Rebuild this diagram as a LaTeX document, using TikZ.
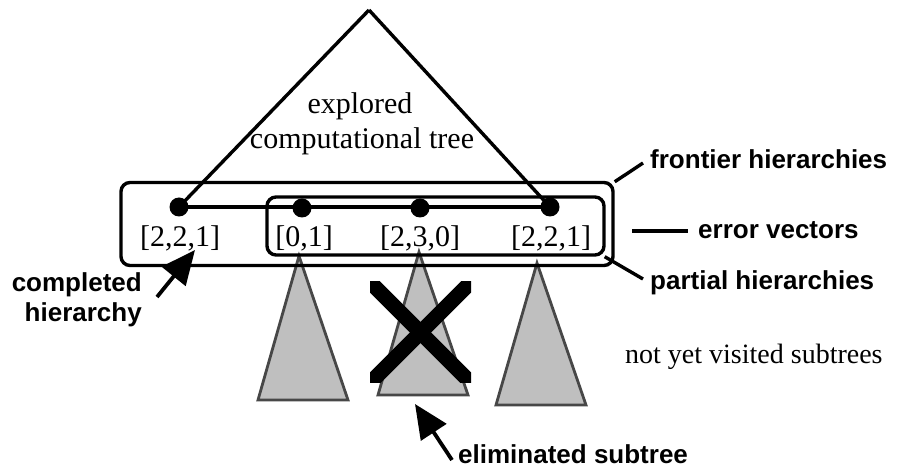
\documentclass[tikz,border=0pt]{standalone}
\usepackage{fontspec}
\setmainfont{Liberation Serif}
\newfontfamily\labelfont{Liberation Sans}
\usetikzlibrary{arrows.meta}
\tikzset{
  serif/.style={font=\fontsize{30}{34}\selectfont, inner sep=0pt},
  lbl/.style={font=\labelfont\bfseries\fontsize{26}{30}\selectfont, inner sep=0pt},
  dotnode/.style={circle, fill=black, minimum size=19pt, inner sep=0pt},
  treeline/.style={line width=3.4pt, black},
  boxframe/.style={draw, line width=3.4pt, rounded corners=9pt, inner sep=0pt},
  subtree/.style={fill=black!25, draw=black!72, line width=2.8pt, line join=miter},
  leader/.style={line width=3.4pt},
  bigarrow/.style={line width=3.8pt, -{Triangle[length=34pt,width=30pt]}},
}
\begin{document}
\begin{tikzpicture}[x=1pt,y=-1pt]
\useasboundingbox (0,0) rectangle (900,470);

% subtrees (drawn first, behind frames)
\draw[subtree] (299,256) -- (348,400) -- (258,400) -- cycle;
\draw[subtree] (419,252) -- (468,395) -- (378,395) -- cycle;
\draw[subtree] (537,263) -- (586,405) -- (496,405) -- cycle;

% frames
\node[boxframe, minimum width=492pt, minimum height=83pt] (frontier) at (367,224) {};
\node[boxframe, minimum width=337pt, minimum height=58pt] (partial) at (435.5,226) {};

% explored tree
\coordinate (apex) at (369,10);
\node[dotnode] (d1) at (179,207) {};
\node[dotnode] (d2) at (302,208) {};
\node[dotnode] (d3) at (420,208) {};
\node[dotnode] (d4) at (550,207) {};
\draw[treeline] (apex) -- (d1.center);
\draw[treeline] (apex) -- (d4.center);
\draw[treeline] (d1.center) -- (d4.center);

\node[serif] (t1) at (360,106) {explored};
\node[serif] (t2) at (362,141) {computational tree};

% error vectors
\node[serif, anchor=base] (e1) at (180,247) {[2,2,1]};
\node[serif, anchor=base] (e2) at (304,247) {[0,1]};
\node[serif, anchor=base] (e3) at (420,247) {[2,3,0]};
\node[serif, anchor=base] (e4) at (551,247) {[2,2,1]};

% cross over eliminated subtree
\begin{scope}
\clip (370,282) rectangle (471,383);
\coordinate (xa) at (360,272);
\coordinate (xb) at (481,393);
\coordinate (xc) at (481,272);
\coordinate (xd) at (360,393);
\draw[line width=15pt] (xa) -- (xb);
\draw[line width=15pt] (xc) -- (xd);
\end{scope}

% right labels
\node[lbl, anchor=base west] (lf) at (650,169) {frontier hierarchies};
\node[lbl, anchor=base west] (le) at (698,239) {error vectors};
\node[lbl, anchor=base west] (lp) at (650,290) {partial hierarchies};
\draw[leader] (frontier.north east) ++(0,1) -- (643,163);
\coordinate (ev) at (632,231);
\draw[leader] (ev) -- (688,231);
\draw[leader] (partial.south east) ++(-1,0) -- (643,279);

% completed hierarchy
\node[lbl, anchor=base east] (lc1) at (142,292) {completed};
\node[lbl, anchor=base east] (lc2) at (142,322) {hierarchy};
\coordinate (ctail) at (157,297);
\coordinate (ctip) at (195,250);
\draw[bigarrow] (ctail) -- (ctip);

% eliminated subtree
\node[lbl, anchor=base west] (ls) at (458,463) {eliminated subtree};
\coordinate (stail) at (452,460);
\coordinate (stip) at (415,404);
\draw[bigarrow] (stail) -- (stip);

% not yet visited
\node[serif, anchor=base west, font=\fontsize{28}{32}\selectfont] (nv) at (625,364) {not yet visited subtrees};
\end{tikzpicture}
\end{document}
